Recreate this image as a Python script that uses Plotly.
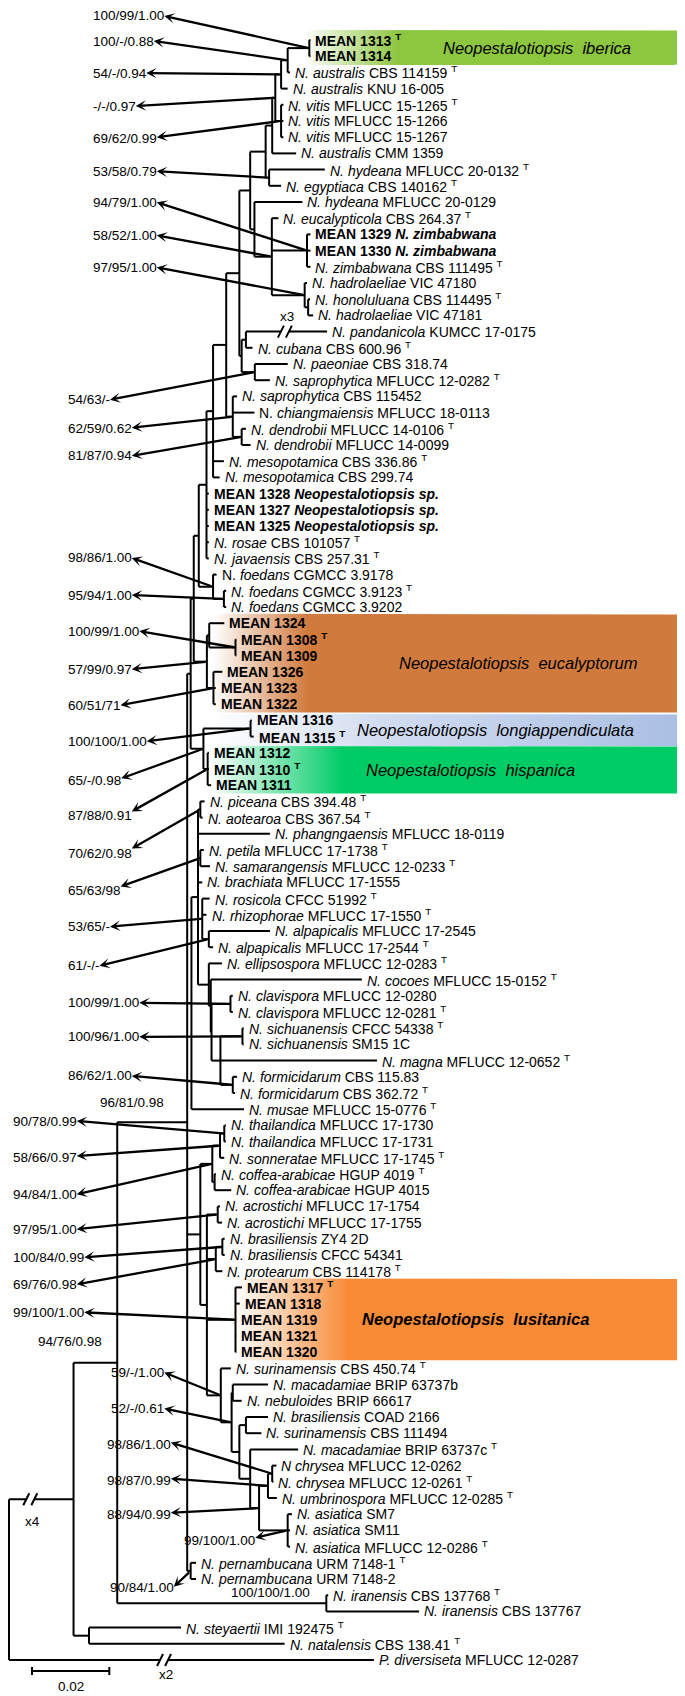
import math
import plotly.graph_objects as go

# ============================ DATA ============================
# Tree topology (Newick parts), branch lengths in substitutions per site.
# Branches listed in BREAKS are drawn shortened (x4 / x2 / x3 in the figure).
NW_HZ = ("(L10:0.0124,(L11:0.0017,(L12:0.0009,L13:0.0009,L14:0.0009)ZB:0.0091,"
         "(L15:0.0006,(L16:0.0005,L17:0.0013)HD1:0.0009)HD:0.0085)EZ:0.0045)HZ:0.0011")
NW_T7 = ("(((((((L0:0.0003,L1:0.0003)T1:0.0056,L2:0.0006)T2:0.0017,L3:0.0017)T3:0.0015,"
         "(L4:0.0006,L5:0.0006,L6:0.0006)V:0.0015)T4:0.0008,L7:0.0062)T5:0.0017,"
         "(L8:0.0144,L9:0.0031)HE:0.0009)T6:0.0040," + NW_HZ + ")T7:0.0028")
NW_T8 = "((L18:0.0210,L19:0.0017)PC:0.0011,(L20:0.0085,L21:0.0039)PS:0.0034)T8:0.0006"
NW_X = "(L22:0.0011,L23:0.0056,(L24:0.0011,L25:0.0023)DD:0.0023)X:0.0017"
NW_FOE = "(L33:0.0009,(L34:0.0006,L35:0.0006)FOE2:0.0028)FOE:0.0037"
NW_EU = ("((L36:0.0039,(L37:0.0002,L38:0.0002)E1b:0.0068)E1:0.0006,"
         "(L39:0.0023,L40:0.0006,L41:0.0006)E2:0.0017)EU:0.0034")
NW_LH = "((L42:0.0003,L43:0.0008)LO:0.0122,(L44:0.0003,L45:0.0003,L46:0.0009)HI:0.0011)LH:0.0033"
NW_T16 = ("(((((((" + NW_T7 + "," + NW_T8 + ")T9:0.0034," + NW_X + ")T10:0.0034,"
          "L26:0.0028,L27:0.0017)T12:0.0017,L28:0.0006,L29:0.0006,L30:0.0006,L31:0.0006,"
          "L32:0.0006)T13:0.0020," + NW_FOE + ")T14:0.0013," + NW_EU + ")T15:0.0008,"
          + NW_LH + ")T16:0.0009")
NW_M = ("(((L47:0.0011,L48:0.0006)PA:0.0006,L49:0.0186,(L50:0.0009,L51:0.0025)PS2:0.0006,"
        "L52:0.0011,(L53:0.0019,L54:0.0011,(L55:0.0158,L56:0.0011)AL:0.0017)RR:0.0011,"
        "(L57:0.0034,(L58:0.0391,((L59:0.0006,L60:0.0006)CL:0.0049,((L61:0.0003,L62:0.0003)SI:0.0057,"
        "L63:0.0405,(L64:0.0011,L65:0.0006)FO:0.0032)SF:0.0023)CS:0.0002)CC:0.0005)EC:0.0028)G:0.0017,"
        "L66:0.0136)M:0.0011")
NW_TC = ("(((L67:0.0004,L68:0.0004)TH1:0.0011,L69:0.0011)TH:0.0020,"
         "(L70:0.0003,L71:0.0043)COF:0.0006)TC:0.0031")
NW_S = ("(L82:0.0026,((L83:0.0091,L84:0.0023)MN:0.0003,((L85:0.0057,L86:0.0040)CS2:0.0017,"
        "(L87:0.0124,(((L88:0.0011,L89:0.0003)CH:0.0011,L90:0.0023)CHU:0.0023,"
        "(L91:0.0011,L92:0.0006,L93:0.0006)AS:0.0074)AU:0.0023)MCU:0.0028)N530:0.0020)N515:0.0028)S:0.0036")
NW_K = ("((L72:0.0006,L73:0.0011)AC:0.0028,((L74:0.0006,L75:0.0006)BR:0.0017,L76:0.0017)BP:0.0023,"
        "(L77:0.0017,L78:0.0011,L79:0.0002,L80:0.0002,L81:0.0002)LU:0.0074," + NW_S + ")K:0.0017")
NW_J = "(" + NW_TC + "," + NW_K + ")J:0.0034"
NW_PE = "(L94:0.0014,L95:0.0014)PE:0.0009"
NW_D = "(" + NW_T16 + "," + NW_M + "," + NW_J + "," + NW_PE + ")D:0.0181"
NW_E = "(L96:0.0005,L97:0.0240)E:0.0541"
NW_C = "(L98:0.0238,L99:0.0506)C:0.0040"
NEWICK = "(((" + NW_D + "," + NW_E + ")B:0.0113," + NW_C + ")A:0.0167,L100:0.0944)R;"

BREAKS = {"A": "x4", "L100": "x2", "L18": "x3"}
SCALE_BAR = 0.02

LEAF_LABELS = [
    "<b>MEAN 1313 <sup>T</sup></b>", "<b>MEAN 1314</b>",
    "<i>N. australis</i> CBS 114159 <sup>T</sup>", "<i>N. australis</i> KNU 16-005",
    "<i>N. vitis</i> MFLUCC 15-1265 <sup>T</sup>", "<i>N. vitis</i> MFLUCC 15-1266",
    "<i>N. vitis</i> MFLUCC 15-1267", "<i>N. australis</i> CMM 1359",
    "<i>N. hydeana</i> MFLUCC 20-0132 <sup>T</sup>", "<i>N. egyptiaca</i> CBS 140162 <sup>T</sup>",
    "<i>N. hydeana</i> MFLUCC 20-0129", "<i>N. eucalypticola</i> CBS 264.37 <sup>T</sup>",
    "<b>MEAN 1329 <i>N. zimbabwana</i></b>", "<b>MEAN 1330 <i>N. zimbabwana</i></b>",
    "<i>N. zimbabwana</i> CBS 111495 <sup>T</sup>", "<i>N. hadrolaeliae</i> VIC 47180",
    "<i>N. honoluluana</i> CBS 114495 <sup>T</sup>", "<i>N. hadrolaeliae</i> VIC 47181",
    "<i>N. pandanicola</i> KUMCC 17-0175", "<i>N. cubana</i> CBS 600.96 <sup>T</sup>",
    "<i>N. paeoniae</i> CBS 318.74", "<i>N. saprophytica</i> MFLUCC 12-0282 <sup>T</sup>",
    "<i>N. saprophytica</i> CBS 115452", "N. <i>chiangmaiensis</i> MFLUCC 18-0113",
    "<i>N. dendrobii</i> MFLUCC 14-0106 <sup>T</sup>", "<i>N. dendrobii</i> MFLUCC 14-0099",
    "<i>N. mesopotamica</i> CBS 336.86 <sup>T</sup>", "<i>N. mesopotamica</i> CBS 299.74",
    "<b>MEAN 1328 <i>Neopestalotiopsis sp.</i></b>", "<b>MEAN 1327 <i>Neopestalotiopsis sp.</i></b>",
    "<b>MEAN 1325 <i>Neopestalotiopsis sp.</i></b>", "<i>N. rosae</i> CBS 101057 <sup>T</sup>",
    "<i>N. javaensis</i> CBS 257.31 <sup>T</sup>", "N. <i>foedans</i> CGMCC 3.9178",
    "<i>N. foedans</i> CGMCC 3.9123 <sup>T</sup>", "<i>N. foedans</i> CGMCC 3.9202",
    "<b>MEAN 1324</b>", "<b>MEAN 1308 <sup>T</sup></b>", "<b>MEAN 1309</b>",
    "<b>MEAN 1326</b>", "<b>MEAN 1323</b>", "<b>MEAN 1322</b>",
    "<b>MEAN 1316</b>", "<b>MEAN 1315 <sup>T</sup></b>",
    "<b>MEAN 1312</b>", "<b>MEAN 1310 <sup>T</sup></b>", "<b>MEAN 1311</b>",
    "<i>N. piceana</i> CBS 394.48 <sup>T</sup>", "<i>N. aotearoa</i> CBS 367.54 <sup>T</sup>",
    "<i>N. phangngaensis</i> MFLUCC 18-0119", "<i>N. petila</i> MFLUCC 17-1738 <sup>T</sup>",
    "<i>N. samarangensis</i> MFLUCC 12-0233 <sup>T</sup>", "<i>N. brachiata</i> MFLUCC 17-1555",
    "<i>N. rosicola</i> CFCC 51992 <sup>T</sup>", "<i>N. rhizophorae</i> MFLUCC 17-1550 <sup>T</sup>",
    "<i>N. alpapicalis</i> MFLUCC 17-2545", "<i>N. alpapicalis</i> MFLUCC 17-2544 <sup>T</sup>",
    "<i>N. ellipsospora</i> MFLUCC 12-0283 <sup>T</sup>", "<i>N. cocoes</i> MFLUCC 15-0152 <sup>T</sup>",
    "<i>N. clavispora</i> MFLUCC 12-0280", "<i>N. clavispora</i> MFLUCC 12-0281 <sup>T</sup>",
    "<i>N. sichuanensis</i> CFCC 54338 <sup>T</sup>", "<i>N. sichuanensis</i> SM15 1C",
    "<i>N. magna</i> MFLUCC 12-0652 <sup>T</sup>", "<i>N. formicidarum</i> CBS 115.83",
    "<i>N. formicidarum</i> CBS 362.72 <sup>T</sup>", "<i>N. musae</i> MFLUCC 15-0776 <sup>T</sup>",
    "<i>N. thailandica</i> MFLUCC 17-1730", "<i>N. thailandica</i> MFLUCC 17-1731",
    "<i>N. sonneratae</i> MFLUCC 17-1745 <sup>T</sup>", "<i>N. coffea-arabicae</i> HGUP 4019 <sup>T</sup>",
    "<i>N. coffea-arabicae</i> HGUP 4015", "<i>N. acrostichi</i> MFLUCC 17-1754",
    "<i>N. acrostichi</i> MFLUCC 17-1755", "<i>N. brasiliensis</i> ZY4 2D",
    "<i>N. brasiliensis</i> CFCC 54341", "<i>N. protearum</i> CBS 114178 <sup>T</sup>",
    "<b>MEAN 1317 <sup>T</sup></b>", "<b>MEAN 1318</b>", "<b>MEAN 1319</b>",
    "<b>MEAN 1321</b>", "<b>MEAN 1320</b>",
    "<i>N. surinamensis</i> CBS 450.74 <sup>T</sup>", "<i>N. macadamiae</i> BRIP 63737b",
    "<i>N. nebuloides</i> BRIP 66617", "<i>N. brasiliensis</i> COAD 2166",
    "<i>N. surinamensis</i> CBS 111494", "<i>N. macadamiae</i> BRIP 63737c <sup>T</sup>",
    "<i>N chrysea</i> MFLUCC 12-0262", "<i>N. chrysea</i> MFLUCC 12-0261 <sup>T</sup>",
    "<i>N. umbrinospora</i> MFLUCC 12-0285 <sup>T</sup>", "<i>N. asiatica</i> SM7",
    "<i>N. asiatica</i> SM11", "<i>N. asiatica</i> MFLUCC 12-0286 <sup>T</sup>",
    "<i>N. pernambucana</i> URM 7148-1 <sup>T</sup>", "<i>N. pernambucana</i> URM 7148-2",
    "<i>N. iranensis</i> CBS 137768 <sup>T</sup>", "<i>N. iranensis</i> CBS 137767",
    "<i>N. steyaertii</i> IMI 192475 <sup>T</sup>", "<i>N. natalensis</i> CBS 138.41 <sup>T</sup>",
    "<i>P. diversiseta</i> MFLUCC 12-0287",
]

# support values (ML bootstrap / MP bootstrap / posterior) and the node they belong to
SUPPORT_NODES = ["T1", "T2", "T3", "T4", "V", "HE", "ZB", "EZ", "HD", "PS", "X", "DD",
                 "FOE", "FOE2", "E1b", "EU", "E2", "LO", "LH", "HI", "PA", "PS2", "RR", "AL",
                 "CL", "SI", "FO", "D", "TH1", "TH", "TC", "AC", "BR", "BP", "LU", "B",
                 "S", "N515", "CH", "CHU", "AU", "AS", "PE", "E"]
SUPPORT_TEXT = ["100/99/1.00", "100/-/0.88", "54/-/0.94", "-/-/0.97", "69/62/0.99", "53/58/0.79",
                "94/79/1.00", "58/52/1.00", "97/95/1.00", "54/63/-", "62/59/0.62", "81/87/0.94",
                "98/86/1.00", "95/94/1.00", "100/99/1.00", "57/99/0.97", "60/51/71", "100/100/1.00",
                "65/-/0.98", "87/88/0.91", "70/62/0.98", "65/63/98", "53/65/-", "61/-/-",
                "100/99/1.00", "100/96/1.00", "86/62/1.00", "96/81/0.98", "90/78/0.99", "58/66/0.97",
                "94/84/1.00", "97/95/1.00", "100/84/0.99", "69/76/0.98", "99/100/1.00", "94/76/0.98",
                "59/-/1.00", "52/-/0.61", "98/86/1.00", "98/87/0.99", "88/94/0.99", "99/100/1.00",
                "90/84/1.00", "100/100/1.00"]

CLADE_NAMES = ["iberica", "eucalyptorum", "longiappendiculata", "hispanica", "lusitanica"]
CLADE_LEAVES = [(0, 1), (36, 41), (42, 43), (44, 46), (77, 81)]
CLADE_COLORS = ["#8DC63F", "#D07A3E", "#A9BEE3", "#00CC66", "#F98A36"]
CLADE_BOLD = [False, False, False, False, True]

# ============================ LAYOUT ============================
W, H = 685, 1696
PX_PER_UNIT = 3865.0
X0_PX = 1.0
ROW0_PX = 32.0
ROW_PX = 16.2
UX = 1.0 / PX_PER_UNIT
UY = 1.0 / ROW_PX


def px2x(px):
    return (px - X0_PX) / PX_PER_UNIT


def px2row(py):
    return (py - ROW0_PX) / ROW_PX


def ref_row(py):
    # label heights measured against the leaf rows of the reference
    return (py - 38.0) / 16.17


FONT = "Liberation Sans, Arial, Helvetica, sans-serif"
LEAF_FS = 14
SUP_FS = 13.5
CLADE_FS = 16.5
CHAR_W = {"/": 0.278, ".": 0.278, "-": 0.333}

TOP, MID, BL = 83, 58, 3
# support label: left x (px), y (reference px), arrow-head y (reference px) or None
SUPPORT_POS = [
    (TOP, 14, 14), (TOP, 39, 39), (TOP, 71, 71), (TOP, 104, 104), (TOP, 136, 135),
    (TOP, 169, 169), (TOP, 200, 200), (TOP, 233, 233), (TOP, 265, 265),
    (MID, 397, 397), (MID, 426, 425), (MID, 453, 453), (MID, 555, 555), (MID, 592, 592),
    (MID, 628, 628), (MID, 666, 666), (MID, 702, 702), (MID, 738, 738), (MID, 777, 775),
    (MID, 812, 808), (MID, 850, 845), (MID, 887, 883), (MID, 923, 923), (MID, 962, 962),
    (MID, 999, 999), (MID, 1033, 1033), (MID, 1072, 1072), (90, 1099, None),
    (BL, 1117, 1117), (BL, 1153, 1152), (BL, 1190, 1190), (BL, 1225, 1225),
    (BL, 1253, 1253), (BL, 1280, 1280), (BL, 1308, 1308), (28, 1337, None),
    (101, 1368, 1368), (101, 1404, 1404), (97, 1440, 1438), (97, 1476, 1474),
    (97, 1510, 1508), (174, 1536, 1533), (100, 1583, 1582), (221, 1588, None),
]
# box: left px, right px, top pad rows, bottom pad rows, solid-from fraction, text x px
CLADE_GEOM = [
    (296, 675, 0.62, 0.55, 0.25, 432.5),
    (205, 680, 0.58, 0.52, 0.20, 389),
    (201, 680, 0.40, 0.58, 1.00, 347),
    (201, 680, 0.42, 0.52, 0.28, 356),
    (227, 682, 0.55, 0.50, 0.25, 352),
]
BREAK_FRAC = {"x4": 0.33, "x2": 0.425, "x3": 0.48}
BREAK_LABEL_DY = {"x4": 22, "x2": 14, "x3": -15}
SCALE_POS = (24, 1663)
SCALE_LABEL_Y = 1678

# ============================ TREE ============================


def parse_newick(s):
    s = "".join(s.split()).rstrip(";")
    pos = 0

    def node():
        nonlocal pos
        n = {"kids": [], "name": "", "len": 0.0}
        if s[pos] == "(":
            pos += 1
            while True:
                n["kids"].append(node())
                ch = s[pos]
                pos += 1
                if ch == ")":
                    break
        st = pos
        while pos < len(s) and s[pos] not in ":,)":
            pos += 1
        n["name"] = s[st:pos]
        if pos < len(s) and s[pos] == ":":
            pos += 1
            st = pos
            while pos < len(s) and s[pos] not in ",)":
                pos += 1
            n["len"] = float(s[st:pos])
        return n

    return node()


tree = parse_newick(NEWICK)
nodes, leaves = {}, []


def lay(n, x0):
    n["x"] = x0 + n["len"]
    nodes[n["name"]] = n
    if n["kids"]:
        for k in n["kids"]:
            lay(k, n["x"])
        n["y"] = (n["kids"][0]["y"] + n["kids"][-1]["y"]) / 2.0
    else:
        n["y"] = len(leaves)
        leaves.append(n)


lay(tree, 0.0)
assert [l["name"] for l in leaves] == ["L%d" % i for i in range(len(LEAF_LABELS))]

lx, ly = [], []


def seg(x0, y0, x1, y1):
    lx.extend([x0, x1, None])
    ly.extend([y0, y1, None])


annotations = []
for n in list(nodes.values()):
    if not n["kids"]:
        continue
    seg(n["x"], n["kids"][0]["y"], n["x"], n["kids"][-1]["y"])
    for k in n["kids"]:
        if k["name"] in BREAKS:
            lab = BREAKS[k["name"]]
            bx = n["x"] + BREAK_FRAC[lab] * (k["x"] - n["x"])
            g = 4 * UX
            seg(n["x"], k["y"], bx - g, k["y"])
            seg(bx + g, k["y"], k["x"], k["y"])
            for cx in (bx - g, bx + g):
                seg(cx - 3 * UX, k["y"] + 6 * UY, cx + 3 * UX, k["y"] - 6 * UY)
            annotations.append(dict(x=bx + 2 * UX, y=k["y"] + BREAK_LABEL_DY[lab] * UY, text=lab,
                                    showarrow=False, xanchor="center", yanchor="middle",
                                    font=dict(family=FONT, size=SUP_FS, color="black")))
        else:
            seg(n["x"], k["y"], k["x"], k["y"])

# scale bar
sx, sy = px2x(SCALE_POS[0]), px2row(SCALE_POS[1])
seg(sx, sy, sx + SCALE_BAR, sy)
seg(sx, sy - 4 * UY, sx, sy + 4 * UY)
seg(sx + SCALE_BAR, sy - 4 * UY, sx + SCALE_BAR, sy + 4 * UY)
annotations.append(dict(x=sx + SCALE_BAR / 2, y=px2row(SCALE_LABEL_Y), text="%.2f" % SCALE_BAR,
                        showarrow=False, xanchor="center", yanchor="middle",
                        font=dict(family=FONT, size=SUP_FS, color="black")))

fig = go.Figure()

# clade boxes (behind the tree)
for name, (i0, i1), col, bold, geom in zip(CLADE_NAMES, CLADE_LEAVES, CLADE_COLORS, CLADE_BOLD, CLADE_GEOM):
    x0p, x1p, tp, bp, frac, txp = geom
    x0, x1 = px2x(x0p), px2x(x1p)
    y0, y1 = i0 - tp, i1 + bp
    rx, ry = 10 * UX, 8 * UY
    xs, ys = [x0 + rx, x1 - rx], [y0, y0]
    steps = 8
    for j in range(steps + 1):
        t = math.pi / 2 * j / steps
        xs.append(x1 - rx + rx * math.sin(t)); ys.append(y0 + ry - ry * math.cos(t))
    for j in range(steps + 1):
        t = math.pi / 2 * j / steps
        xs.append(x1 - rx + rx * math.cos(t)); ys.append(y1 - ry + ry * math.sin(t))
    for j in range(steps + 1):
        t = math.pi / 2 * j / steps
        xs.append(x0 + rx - rx * math.sin(t)); ys.append(y1 - ry + ry * math.cos(t))
    for j in range(steps + 1):
        t = math.pi / 2 * j / steps
        xs.append(x0 + rx - rx * math.cos(t)); ys.append(y0 + ry - ry * math.sin(t))
    if frac >= 1.0:
        cs = [[0, "white"], [0.35, "#D3DDF1"], [1, col]]
    else:
        cs = [[0, "white"], [frac, col], [1, col]]
    fig.add_trace(go.Scatter(x=xs, y=ys, mode="lines", fill="toself", line=dict(width=0),
                             fillgradient=dict(type="horizontal", colorscale=cs, start=x0, stop=x1),
                             hoverinfo="skip", showlegend=False))
    txt = "<i>Neopestalotiopsis\u00a0 %s</i>" % name
    if bold:
        txt = "<b>" + txt + "</b>"
    annotations.append(dict(x=px2x(txp), y=(y0 + y1) / 2, text=txt, showarrow=False,
                            xanchor="left", yanchor="middle",
                            font=dict(family=FONT, size=CLADE_FS, color="black")))

fig.add_trace(go.Scatter(x=lx, y=ly, mode="lines", line=dict(color="black", width=2),
                         hoverinfo="skip", showlegend=False))

# leaf labels
for lf, lab in zip(leaves, LEAF_LABELS):
    annotations.append(dict(x=lf["x"], y=lf["y"], text=lab, showarrow=False, xanchor="left",
                            yanchor="middle", xshift=3,
                            font=dict(family=FONT, size=LEAF_FS, color="black")))


def text_w(s):
    return sum(CHAR_W.get(c, 0.556) for c in s) * SUP_FS


# support labels + arrows (arrow from node, head at the label)
for nd, txt, pos in zip(SUPPORT_NODES, SUPPORT_TEXT, SUPPORT_POS):
    lxp, lyp, hyp = pos
    yrow = px2row(ROW0_PX + ref_row(lyp) * ROW_PX)
    annotations.append(dict(x=px2x(lxp), y=yrow, text=txt, showarrow=False,
                            xanchor="left", yanchor="middle",
                            font=dict(family=FONT, size=SUP_FS, color="black")))
    if hyp is not None:
        node = nodes[nd]
        hx = lxp + text_w(txt) + 2
        hy = px2row(ROW0_PX + ref_row(hyp) * ROW_PX)
        annotations.append(dict(x=px2x(hx), y=hy, ax=node["x"], ay=node["y"],
                                xref="x", yref="y", axref="x", ayref="y", text="",
                                showarrow=True, arrowhead=3, arrowsize=0.75, arrowwidth=2.3,
                                arrowcolor="black", standoff=0, startstandoff=0))

fig.update_layout(
    width=W, height=H, margin=dict(l=0, r=0, t=0, b=0),
    paper_bgcolor="white", plot_bgcolor="white", showlegend=False,
    xaxis=dict(range=[px2x(0), px2x(W)], visible=False, fixedrange=True),
    yaxis=dict(range=[px2row(H), px2row(0)], visible=False, fixedrange=True),
    annotations=annotations,
)
fig.write_html("out.html")
